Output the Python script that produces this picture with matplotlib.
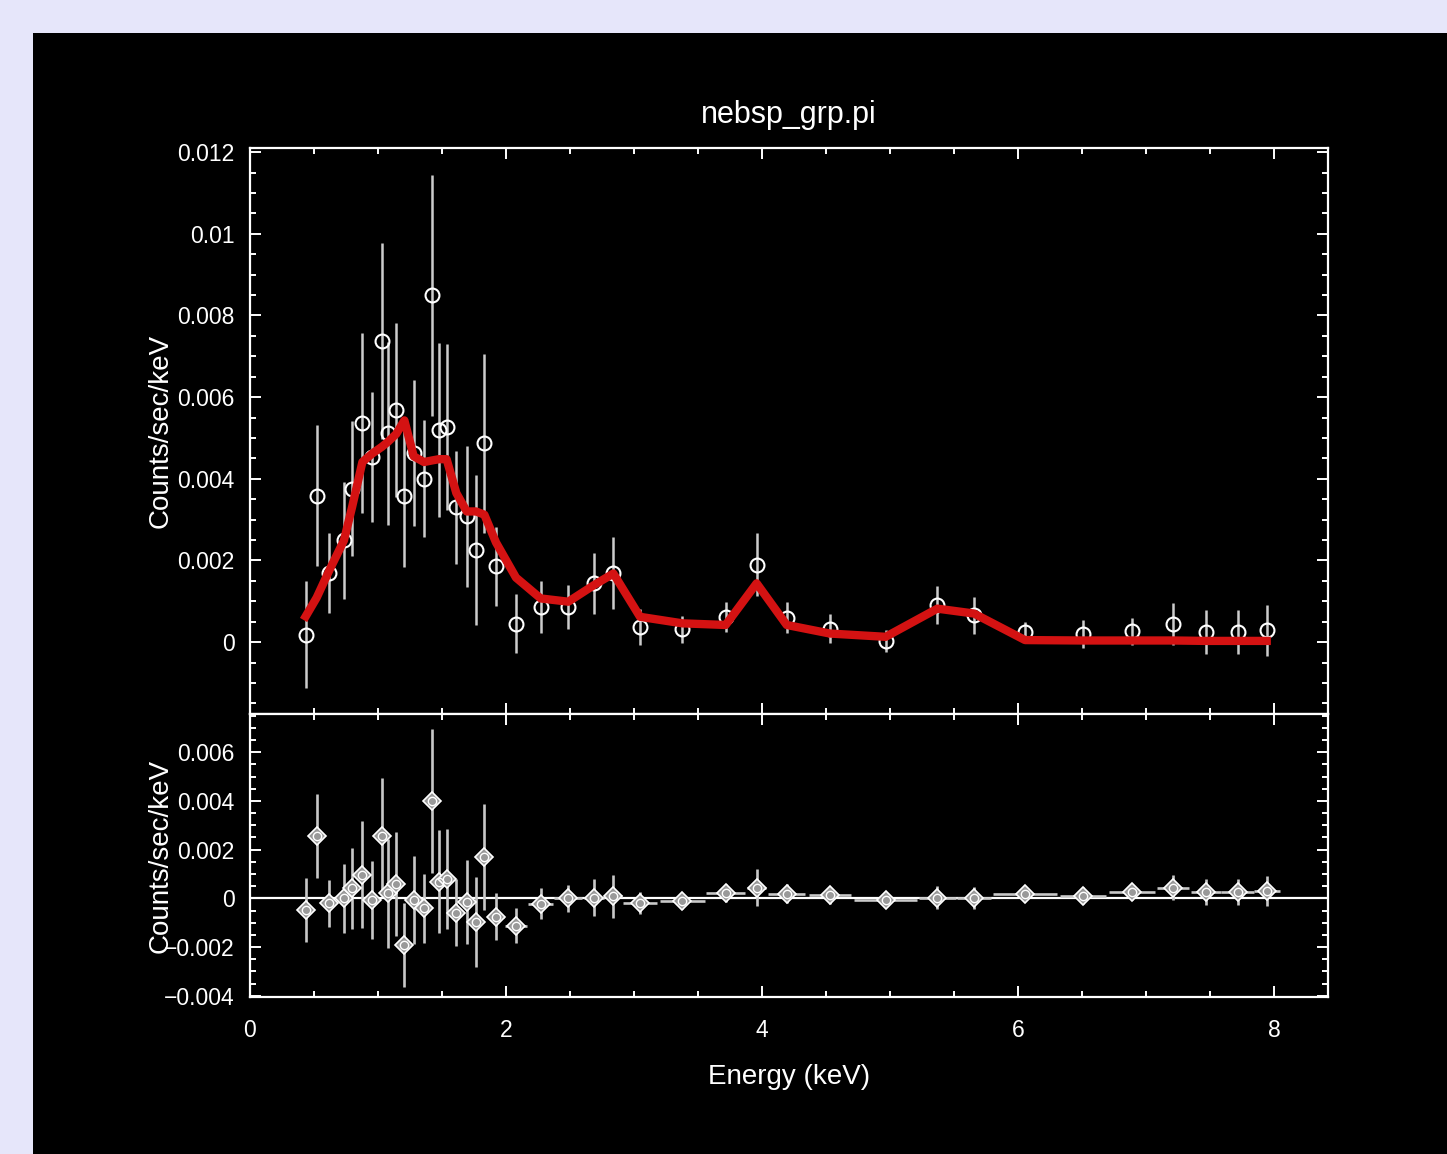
import matplotlib
matplotlib.use("Agg")
import matplotlib.pyplot as plt
from matplotlib.patches import Rectangle
from matplotlib.ticker import MultipleLocator, FuncFormatter

plt.rcParams['font.family'] = ['Liberation Sans', 'DejaVu Sans']

# spectrum bins (keV), half widths, rates, errors
energie = [0.435, 0.521, 0.620, 0.734, 0.797, 0.878, 0.956, 1.029, 1.076, 1.143,
           1.206, 1.279, 1.359, 1.424, 1.477, 1.536, 1.612, 1.693, 1.766, 1.831,
           1.922, 2.078, 2.271, 2.487, 2.689, 2.839, 3.047, 3.378, 3.716, 3.958,
           4.193, 4.531, 4.966, 5.370, 5.656, 6.055, 6.510, 6.893, 7.213, 7.469,
           7.716, 7.943]
demi_largeur = [0.04, 0.045, 0.05, 0.03, 0.035, 0.04, 0.035, 0.03, 0.025, 0.035,
                0.03, 0.04, 0.035, 0.03, 0.025, 0.035, 0.04, 0.04, 0.035, 0.04,
                0.06, 0.085, 0.10, 0.11, 0.08, 0.07, 0.13, 0.175, 0.15, 0.075,
                0.145, 0.165, 0.245, 0.145, 0.13, 0.25, 0.18, 0.18, 0.125, 0.12,
                0.13, 0.10]
taux = [0.00018, 0.00359, 0.00170, 0.00249, 0.00376, 0.00536, 0.00453, 0.00738, 0.00511, 0.00568,
        0.00357, 0.00463, 0.00400, 0.00849, 0.00519, 0.00527, 0.00330, 0.00308, 0.00226, 0.00487,
        0.00186, 0.00045, 0.00086, 0.00086, 0.00144, 0.00170, 0.00037, 0.00031, 0.00062, 0.00190,
        0.00060, 0.00033, 0.00003, 0.00091, 0.00066, 0.00025, 0.00020, 0.00027, 0.00044, 0.00025,
        0.00025, 0.00029]
erreur = [0.00131, 0.00172, 0.00098, 0.00143, 0.00165, 0.00220, 0.00159, 0.00240, 0.00224, 0.00213,
          0.00173, 0.00179, 0.00143, 0.00296, 0.00213, 0.00204, 0.00138, 0.00172, 0.00183, 0.00219,
          0.00097, 0.00072, 0.00063, 0.00054, 0.00075, 0.00088, 0.00045, 0.00033, 0.00037, 0.00077,
          0.00038, 0.00036, 0.00027, 0.00047, 0.00045, 0.00025, 0.00035, 0.00033, 0.00051, 0.00053,
          0.00053, 0.00063]
modele = [0.00063, 0.00109, 0.00176, 0.00249, 0.00330, 0.00441, 0.00462, 0.00478, 0.00490, 0.00510,
          0.00543, 0.00455, 0.00441, 0.00445, 0.00448, 0.00448, 0.00365, 0.00320, 0.00320, 0.00312,
          0.00244, 0.00158, 0.00107, 0.00099, 0.00140, 0.00168, 0.00062, 0.00046, 0.00042, 0.00144,
          0.00042, 0.00021, 0.00013, 0.00082, 0.00070, 0.00005, 0.00004, 0.00004, 0.00004, 0.00003,
          0.00003, 0.00003]
residus = [-0.00048, 0.00255, -0.00021, 0.0, 0.00041, 0.00097, -0.00007, 0.00255, 0.00021, 0.00059,
           -0.00190, -0.00007, -0.00041, 0.00400, 0.00069, 0.00079, -0.00059, -0.00014, -0.00097, 0.00170,
           -0.00076, -0.00113, -0.00022, 0.0, 0.00003, 0.00008, -0.00018, -0.00011, 0.00022, 0.00044,
           0.00019, 0.00012, -0.00008, 0.00003, 0.00003, 0.00019, 0.00010, 0.00026, 0.00044, 0.00026,
           0.00026, 0.00030]

fig = plt.figure(figsize=(14.47, 11.54), dpi=100)
fig.patch.set_facecolor('#e6e6fa')
fig.patches.append(Rectangle((33 / 1447, 0), 1, 1 - 33 / 1154, transform=fig.transFigure,
                             facecolor='black', edgecolor='none', zorder=-10))

ax1 = fig.add_axes([250 / 1447, 1 - 714 / 1154, 1078 / 1447, 566 / 1154])
ax2 = fig.add_axes([250 / 1447, 1 - 997 / 1154, 1078 / 1447, 283 / 1154], sharex=ax1)


def fmt(v, pos):
    if abs(v) < 1e-12:
        return '0'
    return ('%g' % v).replace('-', '\u2212')


for ax in (ax1, ax2):
    ax.set_facecolor('black')
    for s in ax.spines.values():
        s.set_color('white')
        s.set_linewidth(1.6)
    ax.tick_params(which='both', direction='in', top=True, right=True, colors='white',
                   labelsize=16.5, width=1.4, pad=11)
    ax.tick_params(which='major', length=8)
    ax.tick_params(which='minor', length=4)
    ax.xaxis.set_major_locator(MultipleLocator(2))
    ax.xaxis.set_minor_locator(MultipleLocator(0.5))
    ax.yaxis.set_major_locator(MultipleLocator(0.002))
    ax.yaxis.set_minor_locator(MultipleLocator(0.0005))
    ax.yaxis.set_major_formatter(FuncFormatter(fmt))
    ax.set_ylabel('Counts/sec/keV', color='white', fontsize=20)
    ax.yaxis.set_label_coords(-0.071, 0.5)

# top panel: data + model
ax1.errorbar(energie, taux, yerr=erreur, fmt='o', color='#cccccc', ecolor='#cccccc',
             elinewidth=1.8, markersize=10, markerfacecolor='none', markeredgecolor='white',
             markeredgewidth=1.5, zorder=2)
ax1.plot(energie, modele, color='#d41212', linewidth=6, solid_joinstyle='round', zorder=3)
ax1.set_xlim(0, 1078 / 128)
ax1.set_ylim(-0.00176, 0.0121)
ax1.tick_params(labelbottom=False)
ax1.set_title('nebsp_grp.pi', color='white', fontsize=22, pad=18)

# bottom panel: residuals
ax2.axhline(0, color='white', linewidth=1.6, zorder=1)
ax2.errorbar(energie, residus, yerr=erreur, xerr=demi_largeur, fmt='D', color='#c8c8c8',
             ecolor='#c8c8c8', elinewidth=1.9, markersize=9.5, markerfacecolor='#999999',
             markeredgecolor='white', markeredgewidth=1.2, zorder=2)
ax2.plot(energie, residus, 'o', markersize=6, markerfacecolor='none', markeredgecolor='white',
         markeredgewidth=1, zorder=3)
ax2.set_ylim(-0.00405, 0.00757)
ax2.tick_params(axis='x', pad=16)
ax2.set_xlabel('Energy (keV)', color='white', fontsize=20, labelpad=16)

plt.savefig('out.png', dpi=100, facecolor=fig.get_facecolor())
